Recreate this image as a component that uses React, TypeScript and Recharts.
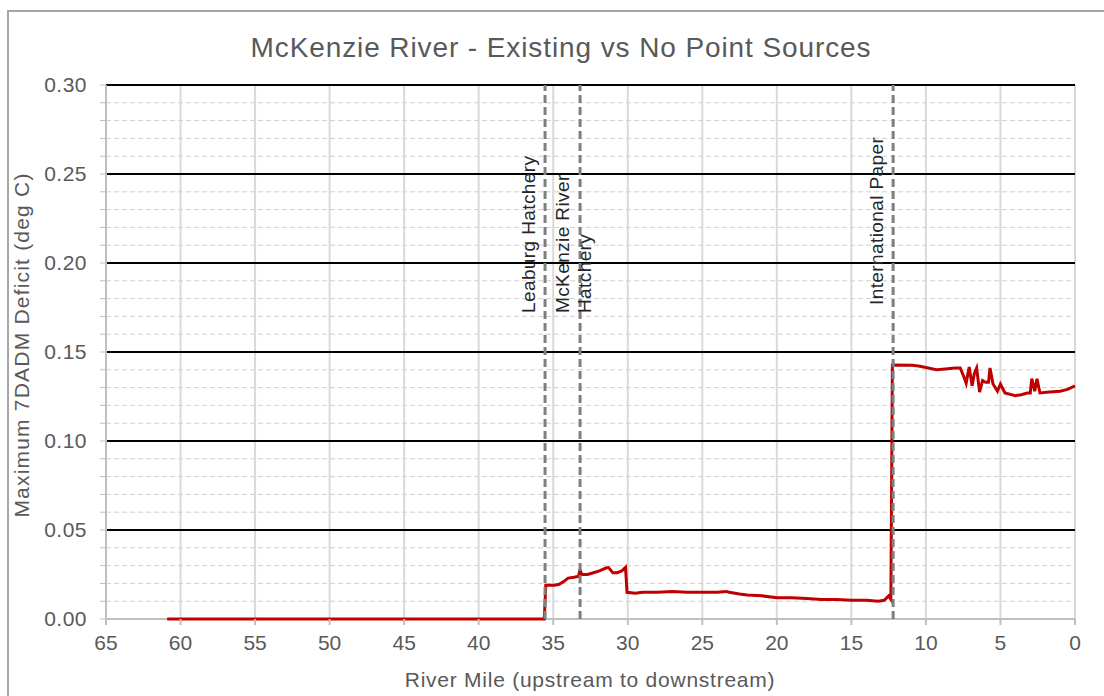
import React from 'react';
import { LineChart, Line, XAxis, YAxis, CartesianGrid, ReferenceLine } from 'recharts';

// river mile (upstream -> downstream) and max 7DADM deficit
const riverMile = [
  60.9, 35.6, 35.5, 35.2, 34.9, 34.6, 34.3, 34.0, 33.6, 33.3, 33.2, 33.1, 32.7, 32.3,
  31.9, 31.5, 31.3, 31.0, 30.7, 30.4, 30.15, 30.05, 29.5, 29.0, 28.0, 27.0, 26.0, 25.0,
  24.0, 23.4, 23.2, 22.5, 22.0, 21.0, 20.0, 19.0, 18.0, 17.0, 16.0, 15.0, 14.0, 13.2,
  12.8, 12.5, 12.35, 12.25, 10.9, 10.4, 9.3, 8.7, 8.05, 7.7, 7.45, 7.3, 7.1, 6.9, 6.75,
  6.6, 6.4, 6.2, 6.0, 5.8, 5.7, 5.5, 5.2, 5.0, 4.7, 4.0, 3.6, 3.2, 3.0, 2.9, 2.7, 2.55,
  2.35, 1.7, 1.0, 0.5, 0.0,
];
const deficit = [
  0, 0, 0.019, 0.019, 0.019, 0.0195, 0.021, 0.023, 0.0235, 0.024, 0.028, 0.025, 0.025, 0.026,
  0.027, 0.0285, 0.029, 0.026, 0.026, 0.027, 0.029, 0.015, 0.0145, 0.015, 0.015, 0.0155, 0.015, 0.015,
  0.015, 0.0155, 0.015, 0.014, 0.0135, 0.013, 0.012, 0.012, 0.0115, 0.011, 0.011, 0.0105, 0.0105, 0.01,
  0.0105, 0.013, 0.011, 0.1427, 0.1425, 0.142, 0.14, 0.1405, 0.141, 0.141, 0.136, 0.1325, 0.1416, 0.131, 0.138,
  0.141, 0.1275, 0.134, 0.133, 0.133, 0.141, 0.132, 0.128, 0.132, 0.127, 0.1255, 0.126, 0.127, 0.127, 0.135, 0.128, 0.135,
  0.127, 0.1275, 0.128, 0.129, 0.131,
];

const xTicks = [0, 5, 10, 15, 20, 25, 30, 35, 40, 45, 50, 55, 60, 65];
const yTicks = [
  0, 0.01, 0.02, 0.03, 0.04, 0.05, 0.06, 0.07, 0.08, 0.09, 0.1, 0.11, 0.12, 0.13, 0.14, 0.15,
  0.16, 0.17, 0.18, 0.19, 0.2, 0.21, 0.22, 0.23, 0.24, 0.25, 0.26, 0.27, 0.28, 0.29, 0.3,
];
const majorY = [0.05, 0.1, 0.15, 0.2, 0.25, 0.3];
const minorY = [
  0.01, 0.02, 0.03, 0.04, 0.06, 0.07, 0.08, 0.09, 0.11, 0.12, 0.13, 0.14, 0.16, 0.17, 0.18, 0.19,
  0.21, 0.22, 0.23, 0.24, 0.26, 0.27, 0.28, 0.29,
];

const sourceMiles = [35.55, 33.2, 12.2];
const sourceNames = [['Leaburg Hatchery'], ['McKenzie River', 'Hatchery'], ['International  Paper']];

const data = riverMile.map((mile, i) => ({ mile, deficit: deficit[i] }));

const FONT = '"Liberation Sans", Arial, sans-serif';
const TEXT = '#595959';

const SourceLabel = (props: any) => {
  const { viewBox, lines, bottom } = props;
  if (!viewBox) return null;
  const x0 = viewBox.x;
  const y0 = viewBox.y + bottom;
  const offs = lines.length === 1 ? [-10] : [-11, 11];
  return (
    <g>
      {lines.map((t: string, i: number) => (
        <text
          key={i}
          x={x0 + offs[i]}
          y={y0}
          transform={`rotate(-90, ${x0 + offs[i]}, ${y0})`}
          fill="#262626"
          fontSize={19}
          letterSpacing={0.4}
          fontFamily={FONT}
          textAnchor="start"
        >
          {t}
        </text>
      ))}
    </g>
  );
};

const fmtY = (v: number) => (Math.round(v * 100) % 5 === 0 ? v.toFixed(2) : '');

export default function App() {
  return (
    <div style={{ position: 'absolute', left: 0, top: 0, width: 1104, height: 696, overflow: 'hidden', background: '#fff' }}>
      <div style={{ position: 'absolute', left: 7, top: 10, width: 1120, height: 720, border: '2px solid #a6a6a6' }} />
      <LineChart
        width={1104}
        height={696}
        data={data}
        margin={{ top: 85, right: 29, bottom: 37, left: 26 }}
        style={{ position: 'absolute', left: 0, top: 0, fontFamily: FONT }}
      >
        <CartesianGrid horizontal={false} stroke="#d9d9d9" strokeWidth={2} />
        <CartesianGrid vertical={false} horizontalValues={minorY} stroke="#d0d0d0" strokeDasharray="5 3" strokeWidth={1} />
        <CartesianGrid vertical={false} horizontalValues={majorY} stroke="#000" strokeWidth={2} />
        <CartesianGrid vertical={false} horizontalValues={[0]} stroke="#bfbfbf" strokeWidth={2} />
        <XAxis
          type="number"
          dataKey="mile"
          domain={[0, 65]}
          reversed
          ticks={xTicks}
          interval={0}
          height={40}
          axisLine={false}
          tickLine={{ stroke: '#bfbfbf', strokeWidth: 2 }}
          tickSize={6}
          tickMargin={10}
          tick={{ fill: TEXT, fontSize: 21, fontFamily: FONT }}
        />
        <YAxis
          type="number"
          domain={[0, 0.3]}
          ticks={yTicks}
          interval={0}
          width={80}
          tickFormatter={fmtY}
          axisLine={{ stroke: '#bfbfbf', strokeWidth: 2 }}
          tickLine={{ stroke: '#bfbfbf', strokeWidth: 1 }}
          tickSize={6}
          tickMargin={13}
          tick={{ fill: TEXT, fontSize: 21, fontFamily: FONT, letterSpacing: 0.5 }}
        />
        <Line
          type="linear"
          dataKey="deficit"
          stroke="#c00000"
          strokeWidth={3}
          dot={false}
          isAnimationActive={false}
        />
        {sourceMiles.map((m, i) => (
          <ReferenceLine
            key={`src${i}`}
            x={m}
            stroke="#7f7f7f"
            strokeWidth={3}
            strokeDasharray="8 4"
            label={<SourceLabel lines={sourceNames[i]} bottom={i === 2 ? 220 : 228} />}
          />
        ))}
      </LineChart>
      <svg width={1104} height={696} style={{ position: 'absolute', left: 0, top: 0, pointerEvents: 'none' }}>
        <text x={561} y={57} textAnchor="middle" fill={TEXT} fontSize={28} letterSpacing={0.9} fontFamily={FONT}>
          McKenzie River - Existing vs No Point Sources
        </text>
        <text x={590} y={687} textAnchor="middle" fill={TEXT} fontSize={21} letterSpacing={0.75} fontFamily={FONT}>
          River Mile (upstream to downstream)
        </text>
        <text
          x={29}
          y={345}
          transform="rotate(-90, 29, 345)"
          textAnchor="middle"
          fill={TEXT}
          fontSize={21}
          letterSpacing={1.2}
          fontFamily={FONT}
        >
          Maximum 7DADM Deficit (deg C)
        </text>
      </svg>
    </div>
  );
}
